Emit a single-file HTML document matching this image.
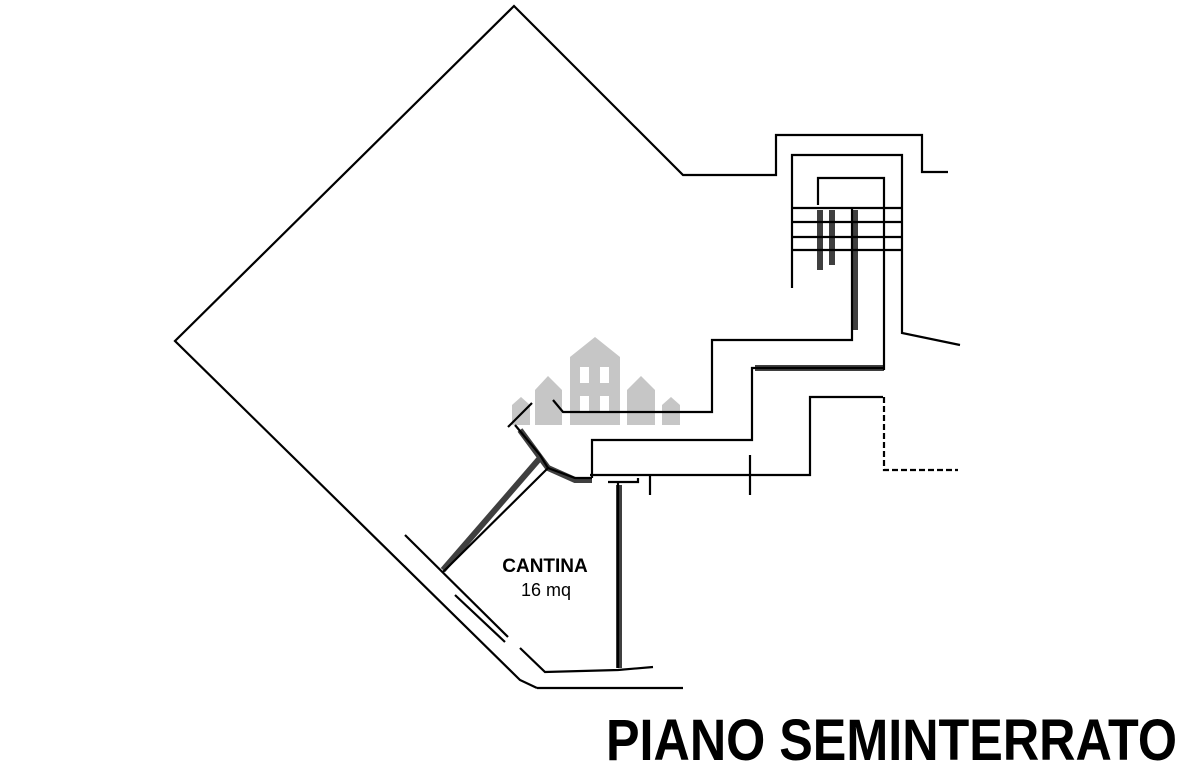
<!DOCTYPE html>
<html><head><meta charset="utf-8"><style>
html,body{margin:0;padding:0;background:#fff;}
svg{display:block;}
</style></head><body>
<svg width="1189" height="768" viewBox="0 0 1189 768" xmlns="http://www.w3.org/2000/svg">
<g fill="#c6c6c6">
<polygon points="570,357 595,337 620,357 620,425 570,425"/>
<polygon points="535,390 548,376 562,390 562,425 535,425"/>
<polygon points="627,390 641,376 655,390 655,425 627,425"/>
<polygon points="512,405 521,397 530,405 530,425 512,425"/>
<polygon points="662,405 671,397 680,405 680,425 662,425"/>
</g>
<g fill="#fff">
<rect x="580" y="367" width="9" height="16"/><rect x="600" y="367" width="9" height="16"/>
<rect x="580" y="396" width="9" height="16"/><rect x="600" y="396" width="9" height="16"/>
</g>
<g fill="none" stroke="#000" stroke-width="2.2" stroke-linejoin="miter">
<polyline points="537,688 520,680 175,341 514,6 683,175 776,175 776,135 922,135 922,172 948,172"/>
<line x1="537" y1="688" x2="683" y2="688"/>
<polyline points="792,288 792,155 902,155 902,333 960,345"/>
<polyline points="818,205 818,178 884,178 884,370"/>
<line x1="792" y1="208" x2="902" y2="208"/>
<line x1="792" y1="222" x2="902" y2="222"/>
<line x1="792" y1="237" x2="902" y2="237"/>
<line x1="792" y1="250" x2="902" y2="250"/>
<polyline points="852,208 852,340 712,340 712,412 563,412 553,400"/>
<polyline points="884,368 752,368 752,440 592,440 592,478"/>
<polyline points="883,397 810,397 810,475 590,475"/>
<polyline points="884,397 884,470 958,470" stroke-dasharray="6,3"/>
<polyline points="515,425 540,455 548,468 443,572"/>
<polyline points="548,468 575,478 592,478"/>
<line x1="508" y1="427" x2="532" y2="403"/>
<polyline points="608,482 638,482 638,478"/>
<line x1="618" y1="482" x2="618" y2="668"/>
<line x1="405" y1="535" x2="508" y2="637"/>
<line x1="455" y1="595" x2="505" y2="642"/>
<polyline points="520,648 545,672 618,670 653,667"/>
<line x1="750" y1="455" x2="750" y2="495"/>
<line x1="650" y1="475" x2="650" y2="495"/>
</g>
<g stroke="#000" stroke-width="6" fill="none" opacity="0.75">
<line x1="540" y1="458" x2="443" y2="570"/>
<polyline points="520,430 548,468 575,480 592,480"/>
<line x1="619" y1="485" x2="619" y2="668"/>
<line x1="820" y1="210" x2="820" y2="270"/>
<line x1="832" y1="210" x2="832" y2="265"/>
<line x1="855" y1="210" x2="855" y2="330"/>
<line x1="755" y1="368" x2="884" y2="368"/>
</g>
<text x="545" y="572" font-family="Liberation Sans, sans-serif" font-weight="bold" font-size="19" text-anchor="middle">CANTINA</text>
<text x="546" y="596" font-family="Liberation Sans, sans-serif" font-size="18" text-anchor="middle">16 mq</text>
<text x="606" y="760" font-family="Liberation Sans, sans-serif" font-weight="bold" font-size="58" textLength="571" lengthAdjust="spacingAndGlyphs">PIANO SEMINTERRATO</text>
</svg>
</body></html>
